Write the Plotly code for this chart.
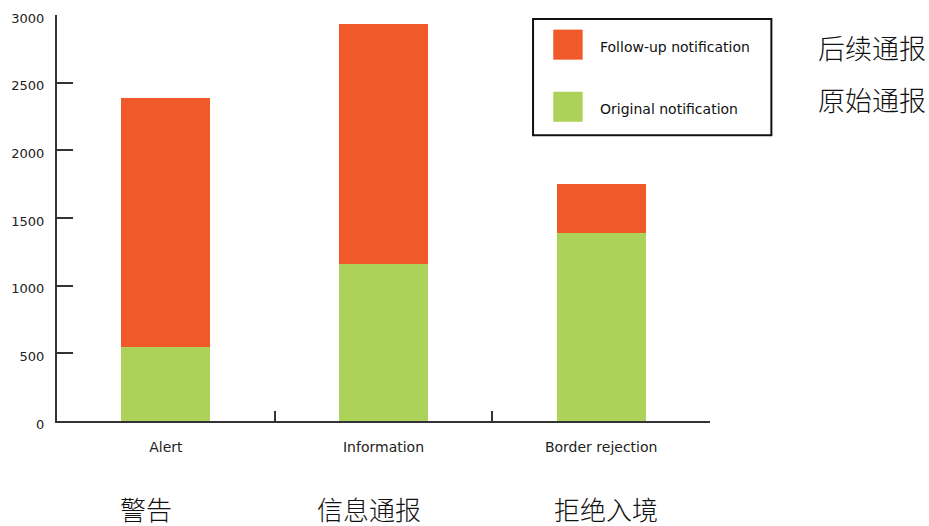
import plotly.graph_objects as go

# Notification counts per notification type
categories = ["Alert", "Information", "Border rejection"]
categories_zh = ["警告", "信息通报", "拒绝入境"]
original = [550, 1160, 1390]
follow_up = [1835, 1770, 360]

series_names = ["Follow-up notification", "Original notification"]
series_names_zh = ["后续通报", "原始通报"]
y_ticks = [0, 500, 1000, 1500, 2000, 2500, 3000]

ORANGE = "#F05A2B"
GREEN = "#ADD25A"
AXIS = "#333333"
FONT = "'DejaVu Sans', sans-serif"
CJK = "'Noto Sans CJK SC', sans-serif"

fig = go.Figure()
fig.add_trace(go.Bar(x=categories, y=original, name=series_names[1],
                     marker=dict(color=GREEN, line=dict(width=0)), width=0.41))
fig.add_trace(go.Bar(x=categories, y=follow_up, name=series_names[0],
                     marker=dict(color=ORANGE, line=dict(width=0)), width=0.41))

fig.update_layout(
    barmode="stack",
    width=929, height=526,
    margin=dict(l=57, r=219, t=15, b=105),
    paper_bgcolor="white", plot_bgcolor="white",
    showlegend=False,
    font=dict(family=FONT, size=13, color="#222222"),
)
fig.update_xaxes(
    showline=True, linecolor=AXIS, linewidth=2,
    ticks="inside", tickson="boundaries", ticklen=10, tickwidth=2, tickcolor=AXIS,
    showgrid=False, zeroline=False, automargin=False,
    ticklabelstandoff=12,
    tickfont=dict(family=FONT, size=14, color="#222222"),
)
fig.update_yaxes(
    range=[0, 3000], tickvals=y_ticks,
    showline=True, linecolor=AXIS, linewidth=2,
    ticks="inside", ticklen=16, tickwidth=2, tickcolor=AXIS,
    showgrid=False, zeroline=False, automargin=False,
    ticklabelstandoff=8, ticklabelshift=3,
    tickfont=dict(family=FONT, size=13, color="#222222"),
)

# Chinese category names under the English ones
for cat, zh, shift in zip(categories, categories_zh, [-20, -15, 5]):
    fig.add_annotation(x=cat, xref="x", y=-0.216, yref="paper", text=zh,
                       showarrow=False, xshift=shift, yanchor="middle",
                       font=dict(family=CJK, size=26, color="#111111", weight=300))

# Boxed legend with large swatches
fig.add_shape(type="rect", xref="paper", yref="paper",
              x0=0.729, x1=1.094, y0=0.704, y1=0.990,
              line=dict(color="#111111", width=2), fillcolor="white")
swatch_colors = [ORANGE, GREEN]
swatch_y = [(0.964, 0.890), (0.811, 0.737)]
text_y = [0.922, 0.769]
zh_y = [0.921, 0.793]
for name, zh, col, (ya, yb), ty, zy in zip(series_names, series_names_zh,
                                           swatch_colors, swatch_y, text_y, zh_y):
    fig.add_shape(type="rect", xref="paper", yref="paper",
                  x0=0.760, x1=0.805, y0=yb, y1=ya,
                  line=dict(width=0), fillcolor=col)
    fig.add_annotation(x=0.828, y=ty, xref="paper", yref="paper",
                       text=name, showarrow=False, xanchor="left", yanchor="middle",
                       font=dict(family=FONT, size=14, color="#111111"))
    fig.add_annotation(x=1.163, y=zy, xref="paper", yref="paper",
                       text=zh, showarrow=False, xanchor="left", yanchor="middle",
                       font=dict(family=CJK, size=27, color="#111111", weight=300))

fig.write_html("out.html")
